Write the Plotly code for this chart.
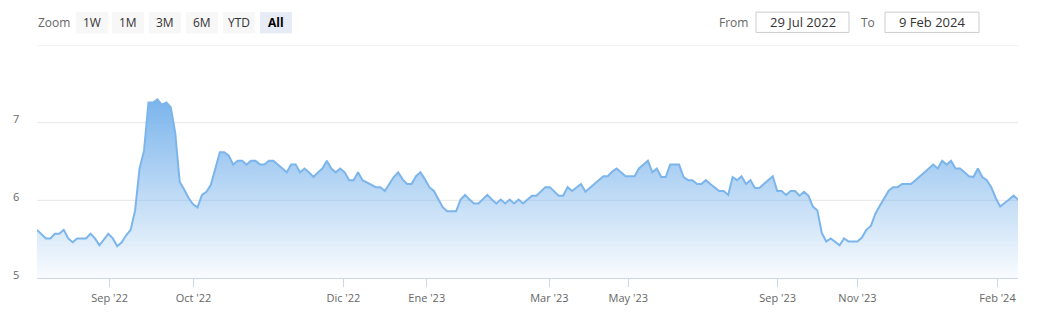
import plotly.graph_objects as go

# ---- data (ordinal axis: points equally spaced) ----
values = [
    5.62, 5.57, 5.51, 5.51, 5.57, 5.57, 5.62, 5.51, 5.46, 5.51, 5.51, 5.51, 5.57, 5.51, 5.42, 5.50,
    5.57, 5.51, 5.41, 5.46, 5.55, 5.62, 5.87, 6.41, 6.64, 7.26, 7.26, 7.30, 7.23, 7.26, 7.20, 6.87,
    6.24, 6.14, 6.03, 5.95, 5.91,
    6.07, 6.11, 6.20, 6.41, 6.62, 6.62, 6.575, 6.46, 6.51, 6.51, 6.46, 6.51, 6.51, 6.46, 6.46, 6.51,
    6.51, 6.46, 6.41, 6.36, 6.46, 6.46, 6.36, 6.41, 6.36, 6.30, 6.36, 6.41, 6.51, 6.41, 6.36, 6.41,
    6.36, 6.26, 6.26, 6.36, 6.26,
    6.23, 6.19, 6.17, 6.17, 6.12, 6.21, 6.30, 6.36, 6.27, 6.21, 6.21, 6.31, 6.36, 6.27, 6.17, 6.12,
    6.01, 5.91, 5.86, 5.86, 5.86, 6.01, 6.07, 6.01, 5.96, 5.96, 6.01, 6.07, 6.01, 5.96, 6.01, 5.96,
    6.01, 5.96, 6.01, 5.96, 6.01,
    6.06, 6.06, 6.12, 6.17, 6.17, 6.12, 6.06, 6.06, 6.17, 6.12, 6.17, 6.21, 6.11, 6.16, 6.21, 6.26,
    6.31, 6.31, 6.37, 6.41, 6.36, 6.31, 6.31, 6.31, 6.41, 6.46, 6.51, 6.36, 6.41, 6.30, 6.30, 6.46,
    6.46, 6.46, 6.30, 6.26, 6.26,
    6.21, 6.21, 6.26, 6.21, 6.16, 6.12, 6.12, 6.07, 6.30, 6.26, 6.31, 6.21, 6.26, 6.16, 6.16, 6.21,
    6.26, 6.31, 6.12, 6.12, 6.07, 6.12, 6.12, 6.06, 6.11, 6.06, 5.92, 5.87, 5.58, 5.47, 5.51, 5.47,
    5.42, 5.51, 5.47, 5.47, 5.47,
    5.52, 5.62, 5.67, 5.825, 5.93, 6.025, 6.125, 6.17, 6.17, 6.21, 6.21, 6.21, 6.26, 6.31, 6.37, 6.42,
    6.46, 6.41, 6.51, 6.46, 6.51, 6.41, 6.41, 6.36, 6.31, 6.30, 6.41, 6.30, 6.26, 6.17, 6.03, 5.92,
    5.96, 6.01, 6.06, 6.01,
]
x_index = list(range(len(values)))

tick_positions = [16.3, 35.1, 68.7, 87.4, 114.9, 132.6, 166.1, 184.0, 215.4]
tick_labels = ["Sep '22", "Oct '22", "Dic '22", "Ene '23", "Mar '23", "May '23", "Sep '23", "Nov '23", "Feb '24"]

y_ticks = [5, 6, 7, 8]
y_tick_labels = ["5", "6", "7", ""]

range_buttons = ["1W", "1M", "3M", "6M", "YTD", "All"]
date_from = "29 Jul 2022"
date_to = "9 Feb 2024"

# ---- layout geometry ----
W, H = 1037, 317
L, R, T, B = 37, 1018, 45, 286


def px(x):
    return (x - L) / (R - L)


def py(y):
    return (B - y) / (B - T)


FONT = "Open Sans, Noto Sans, sans-serif"
LINE = "#7cb5ec"

fig = go.Figure()
fig.add_trace(go.Scatter(
    x=x_index, y=values, mode="lines",
    line=dict(color=LINE, width=2),
    fill="tozeroy",
    fillgradient=dict(
        type="vertical", start=5, stop=7.3,
        colorscale=[[0, "rgba(124,181,236,0.0)"], [1, "rgba(124,181,236,1.0)"]],
    ),
    hoverinfo="skip",
    showlegend=False,
))

shapes = []
annotations = []

# gridlines drawn as shapes so the top one (at the range edge) is visible too
for yv in y_ticks[1:]:
    shapes.append(dict(type="line", xref="paper", yref="y", x0=0, x1=1, y0=yv, y1=yv,
                       line=dict(color="#e6e6e6", width=1), layer="below"))

# y tick labels (sit slightly above their gridline)
for yv, lbl in zip(y_ticks, y_tick_labels):
    if lbl:
        annotations.append(dict(x=px(21), y=yv, xref="paper", yref="y", text=lbl,
                                showarrow=False, xanchor="right", yanchor="middle", yshift=4,
                                font=dict(family=FONT, size=11, color="#666666")))

# "Zoom" label + buttons
annotations.append(dict(x=px(54), y=py(22), xref="paper", yref="paper", text="Zoom",
                        showarrow=False, xanchor="center", yanchor="middle",
                        font=dict(family=FONT, size=12, color="#666666")))
btn_x0 = [76, 112, 149, 186, 223, 260]
for lbl, bx in zip(range_buttons, btn_x0):
    active = lbl == "All"
    shapes.append(dict(type="rect", xref="paper", yref="paper",
                       x0=px(bx), x1=px(bx + 32), y0=py(33), y1=py(11),
                       fillcolor="#e6ebf5" if active else "#f7f7f7",
                       line=dict(width=0), layer="above"))
    annotations.append(dict(x=px(bx + 16), y=py(22), xref="paper", yref="paper",
                            text=f"<b>{lbl}</b>" if active else lbl,
                            showarrow=False, xanchor="center", yanchor="middle",
                            font=dict(family=FONT, size=12, color="#000000" if active else "#333333")))

# From / To inputs
annotations.append(dict(x=px(733), y=py(22), xref="paper", yref="paper", text="From",
                        showarrow=False, xanchor="center", yanchor="middle",
                        font=dict(family=FONT, size=12, color="#666666")))
annotations.append(dict(x=px(868), y=py(22), xref="paper", yref="paper", text="To",
                        showarrow=False, xanchor="center", yanchor="middle",
                        font=dict(family=FONT, size=12, color="#666666")))
for (x0, x1, txt) in [(756, 849, date_from), (885, 979, date_to)]:
    shapes.append(dict(type="rect", xref="paper", yref="paper",
                       x0=px(x0), x1=px(x1), y0=py(32), y1=py(11),
                       fillcolor="white", line=dict(color="#cccccc", width=1), layer="above"))
    annotations.append(dict(x=px((x0 + x1) / 2), y=py(21.5), xref="paper", yref="paper", text=txt,
                            showarrow=False, xanchor="center", yanchor="middle",
                            font=dict(family=FONT, size=13, color="#333333")))

fig.update_layout(
    width=W, height=H,
    margin=dict(l=L, r=W - R, t=T, b=H - B),
    paper_bgcolor="white", plot_bgcolor="white",
    font=dict(family=FONT, size=11, color="#666666"),
    shapes=shapes, annotations=annotations,
    xaxis=dict(
        range=[0, len(values) - 1],
        tickmode="array", tickvals=tick_positions, ticktext=tick_labels,
        showgrid=False, zeroline=False,
        showline=True, linecolor="#ccd6eb", linewidth=1,
        ticks="outside", ticklen=8, tickcolor="#ccd6eb", tickwidth=1,
        ticklabelstandoff=2,
        tickfont=dict(family=FONT, size=11, color="#666666"),
        fixedrange=True,
    ),
    yaxis=dict(
        range=[5, 8],
        tickmode="array", tickvals=y_ticks,
        showgrid=False, zeroline=False, showline=False, ticks="",
        showticklabels=False,
        fixedrange=True,
    ),
)

fig.write_html("out.html", config={"displayModeBar": False})
